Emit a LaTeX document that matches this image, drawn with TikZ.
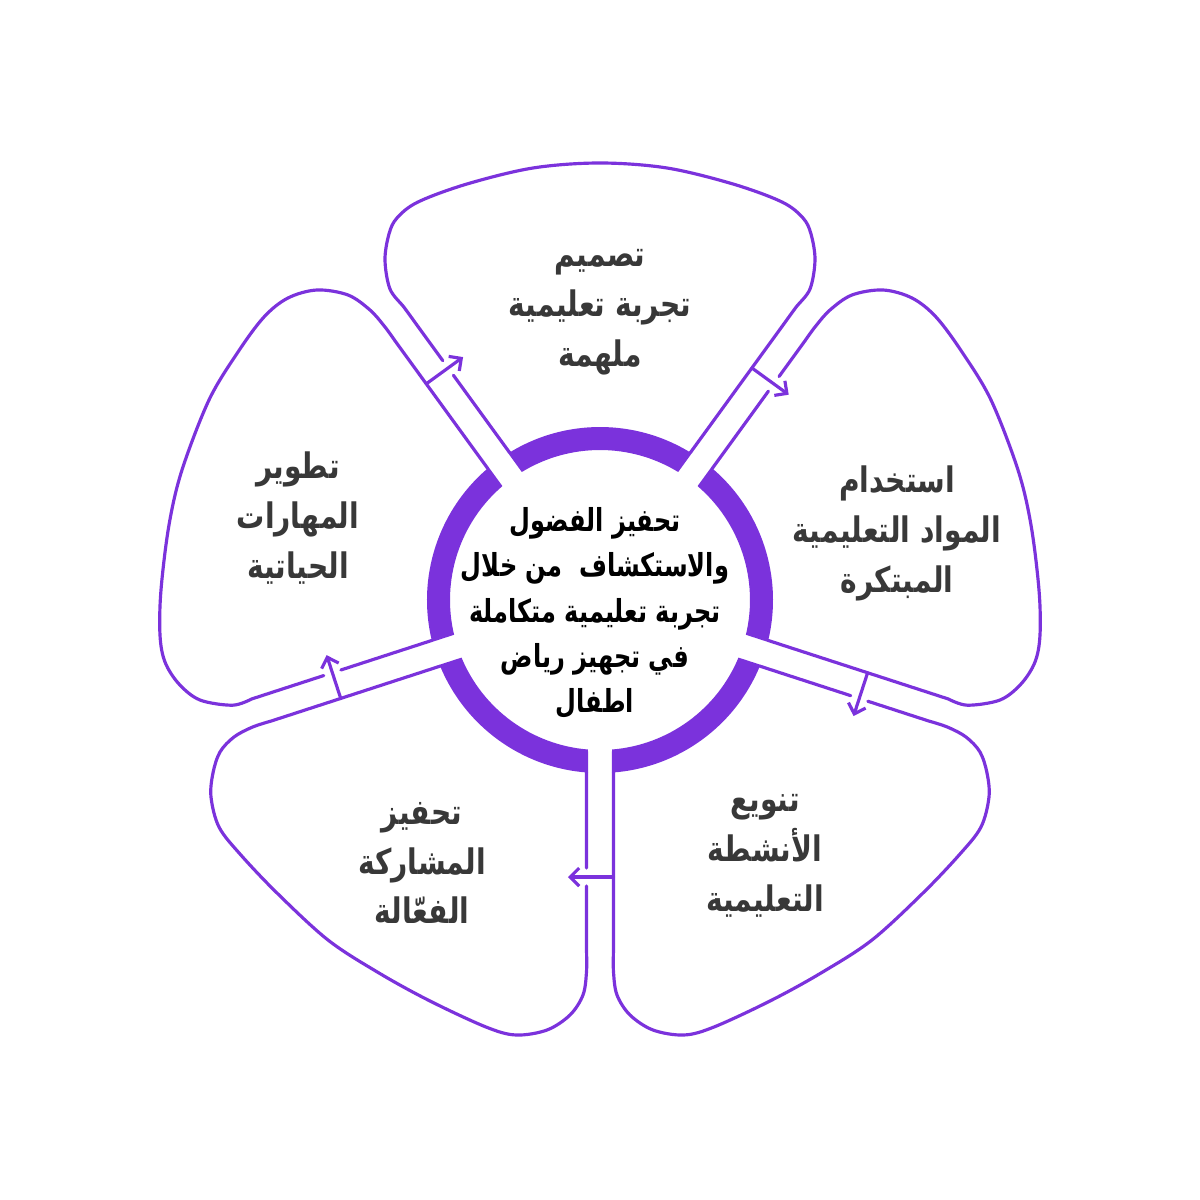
\documentclass[tikz,border=0pt]{standalone}
\usepackage{fontspec}
\usetikzlibrary{calc,arrows.meta}
\newfontfamily\arabicfont[Script=Arabic,FakeStretch=0.8]{DejaVu Sans}
\newfontfamily\arabiccfont[Script=Arabic,FakeStretch=0.76]{DejaVu Sans}
\TeXXeTstate=1
\newcommand\arline[1]{\beginR #1\endR}
\definecolor{vio}{HTML}{7B32DC}
\definecolor{txtgray}{HTML}{383838}
\begin{document}
\begin{tikzpicture}[x=0.01cm,y=0.01cm,
  petal/.style={draw=vio, line width=0.9pt, line cap=round, line join=round},
  flowarrow/.style={draw=vio, line width=0.9pt, line cap=round, -{Straight Barb[length=0.9mm,width=1.8mm,line width=0.9pt]}},
  ptext/.style={font=\arabicfont\bfseries\fontsize{10}{14.2}\selectfont, text=txtgray, align=center},
  ctext/.style={font=\arabiccfont\bfseries\fontsize{9}{12.9}\selectfont, text=black, align=center},
  ringpart/.style={fill=vio, draw=none}
]
\useasboundingbox[fill=white] (-600,-600) rectangle (600,600);

% ring segments
\foreach \a in {-90,-18,54,126,198}{
  \path[ringpart] (\a+3.977:173) arc[start angle=\a+3.977, end angle=\a+72-3.977, radius=173]
     -- (\a+72-4.589:150) arc[start angle=\a+72-4.589, end angle=\a+4.589, radius=150] -- cycle;
}

% top petal
\coordinate (T1) at ($(126:172.5)+(36:13.5)$);
\coordinate (T2) at ($(126:268)+(36:13.5)$);
\coordinate (T3) at ($(126:286)+(36:13.5)$);
\coordinate (T4) at ($(126:332)+(36:13.5)$);
\coordinate (T5) at ($(126:352)+(36:13.5)$);
\coordinate (T6) at ($(54:352)+(144:13.5)$);
\coordinate (T7) at ($(54:332)+(144:13.5)$);
\coordinate (T8) at ($(54:172.5)+(144:13.5)$);
\draw[petal] (T1) -- (T2) (T3) -- plot[smooth,tension=0.55] coordinates {(T4) (T5) (-210,311) (-215,340) (-211,366) (-203,382) (-182,398) (-133,416) (-67,432) (0,437) (67,432) (133,416) (182,398) (203,382) (211,366) (215,340) (210,311) (T6) (T7)} -- (T8);

% left petal
\coordinate (L1) at ($(198:172.5)+(108:13.5)$);
\coordinate (L2) at ($(198:268)+(108:13.5)$);
\coordinate (L3) at ($(198:286)+(108:13.5)$);
\coordinate (L4) at ($(198:362)+(108:13.5)$);
\coordinate (L5) at ($(198:382)+(108:13.5)$);
\coordinate (L6) at ($(126:348)+(216:13.5)$);
\coordinate (L7) at ($(126:330)+(216:13.5)$);
\coordinate (L8) at ($(126:172.5)+(216:13.5)$);
\draw[petal] (L1) -- (L2) (L3) -- plot[smooth,tension=0.55] coordinates {(L4) (L5) (-400,-100) (-421,-84) (-435,-62) (-440,-35) (-439,10) (-431,75) (-418,130) (-391,200) (-362,248) (-336,283) (-312,302) (-283,310) (-252,305) (-230,290) (L6) (L7)} -- (L8);

% right petal
\coordinate (R1) at ($(54:172.5)+(-36:13.5)$);
\coordinate (R2) at ($(54:268)+(-36:13.5)$);
\coordinate (R3) at ($(54:286)+(-36:13.5)$);
\coordinate (R4) at ($(54:330)+(-36:13.5)$);
\coordinate (R5) at ($(54:348)+(-36:13.5)$);
\coordinate (R6) at ($(-18:382)+(72:13.5)$);
\coordinate (R7) at ($(-18:362)+(72:13.5)$);
\coordinate (R8) at ($(-18:172.5)+(72:13.5)$);
\draw[petal] (R1) -- (R2) (R3) -- plot[smooth,tension=0.55] coordinates {(R4) (R5) (230,290) (252,305) (283,310) (312,302) (336,283) (362,248) (391,200) (418,130) (431,75) (439,10) (440,-35) (435,-62) (421,-84) (400,-100) (R6) (R7)} -- (R8);

% bottom-left petal
\coordinate (B1) at (-13.5,-172.5);
\coordinate (B2) at (-13.5,-268);
\coordinate (B3) at (-13.5,-286);
\coordinate (B4) at (-13.5,-350);
\coordinate (B5) at (-13.5,-372);
\coordinate (B6) at ($(198:370)+(288:13.5)$);
\coordinate (B7) at ($(198:350)+(288:13.5)$);
\coordinate (B8) at ($(198:172.5)+(288:13.5)$);
\draw[petal] (B1) -- (B2) (B3) -- plot[smooth,tension=0.55] coordinates {(B4) (B5) (-17,-395) (-30,-415) (-53,-430) (-84,-435) (-114,-427) (-170,-401) (-221,-373) (-272,-340) (-323,-293) (-360,-254) (-381,-227) (-389,-197) (-387,-173) (-380,-152) (-366,-137) (B6) (B7)} -- (B8);

% bottom-right petal
\coordinate (D1) at ($(-18:172.5)+(-108:13.5)$);
\coordinate (D2) at ($(-18:268)+(-108:13.5)$);
\coordinate (D3) at ($(-18:286)+(-108:13.5)$);
\coordinate (D4) at ($(-18:350)+(-108:13.5)$);
\coordinate (D5) at ($(-18:370)+(-108:13.5)$);
\coordinate (D6) at (13.5,-372);
\coordinate (D7) at (13.5,-350);
\coordinate (D8) at (13.5,-172.5);
\draw[petal] (D1) -- (D2) (D3) -- plot[smooth,tension=0.55] coordinates {(D4) (D5) (366,-137) (380,-152) (387,-173) (389,-197) (381,-227) (360,-254) (323,-293) (272,-340) (221,-373) (170,-401) (114,-427) (84,-435) (53,-430) (30,-415) (17,-395) (D6) (D7)} -- (D8);

% arrows
\coordinate (A1s) at ($(126:277)+(216:13.5)$);
\coordinate (A1e) at ($(126:277)+(36:32)$);
\coordinate (A2s) at ($(54:277)+(144:13.5)$);
\coordinate (A2e) at ($(54:277)+(-36:32)$);
\coordinate (A3s) at ($(-18:277)+(72:13.5)$);
\coordinate (A3e) at ($(-18:277)+(-108:32)$);
\coordinate (A4s) at ($(-90:277)+(0:13.5)$);
\coordinate (A4e) at ($(-90:277)+(180:32)$);
\coordinate (A5s) at ($(198:277)+(288:13.5)$);
\coordinate (A5e) at ($(198:277)+(108:32)$);
\draw[flowarrow] (A1s) -- (A1e);
\draw[flowarrow] (A2s) -- (A2e);
\draw[flowarrow] (A3s) -- (A3e);
\draw[flowarrow] (A4s) -- (A4e);
\draw[flowarrow] (A5s) -- (A5e);

% texts
\node[ctext] (center) at (-5,-13) {\arline{تحفيز الفضول}\\\arline{والاستكشاف\ \ من خلال}\\\arline{تجربة تعليمية متكاملة}\\\arline{في تجهيز رياض}\\\arline{اطفال}};
\node[ptext] (ttop) at (0,288) {\arline{تصميم}\\\arline{تجربة تعليمية}\\\arline{ملهمة}};
\node[ptext] (tright) at (297,67) {\arline{استخدام}\\\arline{المواد التعليمية}\\\arline{المبتكرة}};
\node[ptext] (tleft) at (-302,82) {\arline{تطوير}\\\arline{المهارات}\\\arline{الحياتية}};
\node[ptext] (tbright) at (165,-256) {\arline{تنويع}\\\arline{الأنشطة}\\\arline{التعليمية}};
\node[ptext] (tbleft) at (-178,-263) {\arline{تحفيز}\\\arline{المشاركة}\\\arline{الفعّالة}};
\end{tikzpicture}
\end{document}
